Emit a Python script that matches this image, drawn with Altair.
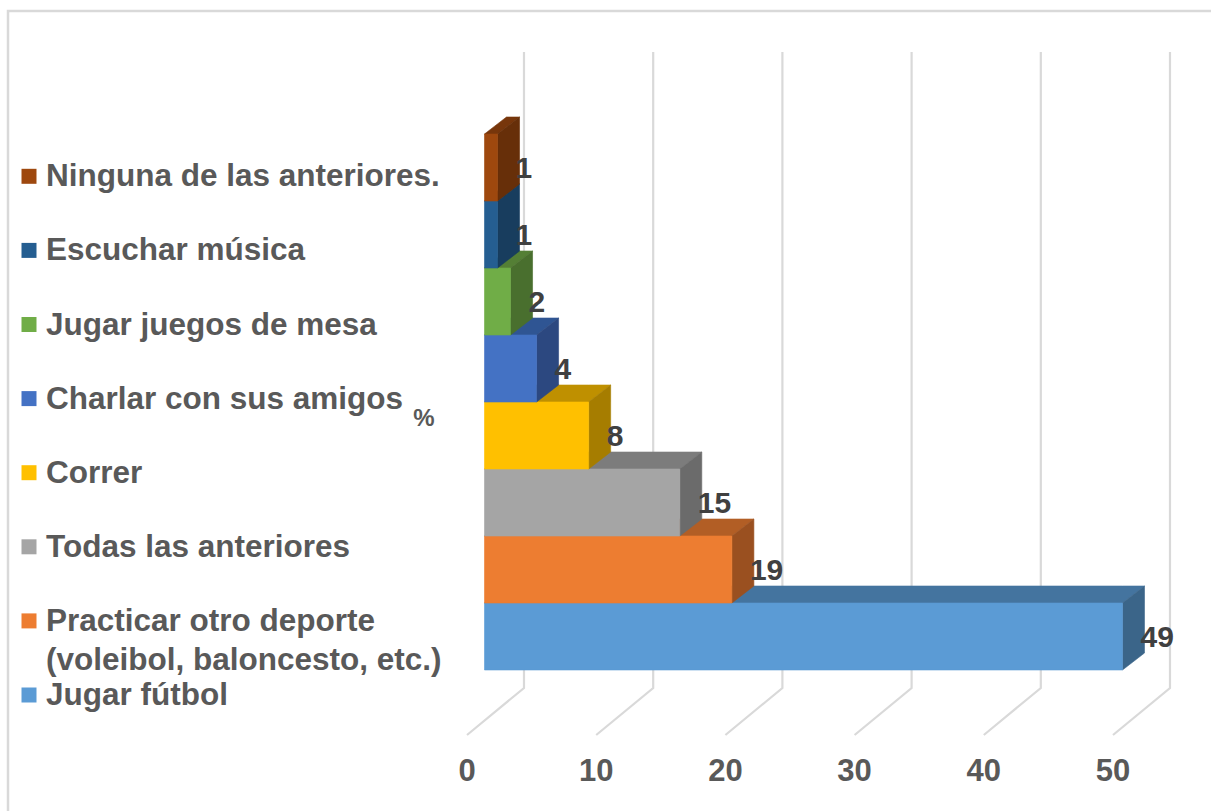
import altair as alt
import pandas as pd

W, H = 1211, 811

# Categories bottom to top, with their percentages
categories = ["Jugar fútbol", "Practicar otro deporte", "Todas las anteriores", "Correr",
              "Charlar con sus amigos", "Jugar juegos de mesa", "Escuchar música",
              "Ninguna de las anteriores."]
values = [49, 19, 15, 8, 4, 2, 1, 1]
front_colors = ["#5B9BD5", "#ED7D31", "#A5A5A5", "#FFC000", "#4472C4", "#70AD47", "#255E91", "#9E480E"]
top_colors = ["#44749F", "#B25E25", "#7C7C7C", "#BF9000", "#2F5593", "#547F35", "#1C476D", "#77360B"]
side_colors = ["#3B6589", "#9A5020", "#6B6B6B", "#A67D00", "#2C4880", "#496F2E", "#183D5E", "#672F09"]
axis_ticks = [0, 10, 20, 30, 40, 50]

# Oblique projection: units per pixel on the two plotting scales
PX_PER_VALUE = 13.02
PX_PER_ROW = 67
PX_PER_GRID = 12.92
BAR_ORIGIN = 484.5
DEPTH_X = 22 / PX_PER_VALUE
DEPTH_Y = 17 / PX_PER_ROW
FLOOR_X = -57 / PX_PER_GRID
ROW_BACK_FLOOR = (670 - 688) / PX_PER_ROW
ROW_FRONT_FLOOR = (670 - 735) / PX_PER_ROW
ROW_WALL_TOP = (670 - 52) / PX_PER_ROW
ROW_TICK_LABEL = (670 - 771) / PX_PER_ROW

x_bar = alt.Scale(domain=[-BAR_ORIGIN / PX_PER_VALUE, (W - BAR_ORIGIN) / PX_PER_VALUE], range=[0, W], nice=False, zero=False)
x_grid = alt.Scale(domain=[-524 / PX_PER_GRID, (W - 524) / PX_PER_GRID], range=[0, W], nice=False, zero=False)
y_row = alt.Scale(domain=[(670 - H) / PX_PER_ROW, 670 / PX_PER_ROW], range=[H, 0], nice=False, zero=False)
y_legend = alt.Scale(domain=[(695 - H) / 74.1, 695 / 74.1], range=[H, 0], nice=False, zero=False)
x_px = alt.Scale(domain=[0, W], range=[0, W], nice=False, zero=False)
y_px = alt.Scale(domain=[0, H], range=[0, H], nice=False, zero=False)


def top_face(v, row):
    """Parallelogram on top of a bar, split at each corner so it can be drawn as an area."""
    x0, x1 = 0.0, float(v)
    corners = sorted({x0, x1, x0 + DEPTH_X, x1 + DEPTH_X})
    pts = []
    for x in corners:
        lower = row + 1 + max(0.0, x - x1) / DEPTH_X * DEPTH_Y
        upper = row + 1 + min(x - x0, DEPTH_X) / DEPTH_X * DEPTH_Y
        pts.append((x, lower, upper))
    return pts


rows = []
for i, v in enumerate(values):
    faces = [
        (top_colors[i], top_face(v, i)),
        (side_colors[i], [(v, i, i + 1), (v + DEPTH_X, i + DEPTH_Y, i + 1 + DEPTH_Y)]),
        (front_colors[i], [(0, i, i + 1), (v, i, i + 1)]),
    ]
    for j, (color, pts) in enumerate(faces):
        for x, y, y2 in pts:
            rows.append({"x": x, "y": y, "y2": y2, "fill": color, "face": f"{i}-{j}"})
bars_df = pd.DataFrame(rows)

bars = alt.Chart(bars_df).mark_area(orient="vertical", strokeWidth=0.6).encode(
    x=alt.X("x:Q", scale=x_bar, axis=None),
    y=alt.Y("y:Q", scale=y_row, axis=None, stack=None),
    y2="y2:Q",
    fill=alt.Fill("fill:N", scale=None),
    stroke=alt.Stroke("fill:N", scale=None),
    detail="face:N",
)

# Back-wall gridlines continuing onto the floor
grid_rows = []
for t in axis_ticks:
    grid_rows += [
        {"t": t, "x": t, "y": ROW_WALL_TOP, "k": 0},
        {"t": t, "x": t, "y": ROW_BACK_FLOOR, "k": 1},
        {"t": t, "x": t + FLOOR_X, "y": ROW_FRONT_FLOOR, "k": 2},
    ]
grid = alt.Chart(pd.DataFrame(grid_rows)).mark_line(color="#D9D9D9", strokeWidth=2.2).encode(
    x=alt.X("x:Q", scale=x_grid, axis=None),
    y=alt.Y("y:Q", scale=y_row, axis=None),
    detail="t:N",
    order="k:Q",
)

tick_df = pd.DataFrame({"t": axis_ticks, "x": [t + FLOOR_X for t in axis_ticks],
                        "y": [ROW_TICK_LABEL] * len(axis_ticks)})
tick_labels = alt.Chart(tick_df).mark_text(
    font="Liberation Sans", fontWeight="bold", fontSize=31, color="#595959", baseline="middle", align="center", dy=1
).encode(
    x=alt.X("x:Q", scale=x_grid, axis=None),
    y=alt.Y("y:Q", scale=y_row, axis=None),
    text="t:N",
)

value_df = pd.DataFrame({"v": values, "row": [i + 0.5 for i in range(len(values))]})
value_labels = alt.Chart(value_df).mark_text(
    font="Liberation Sans", fontWeight="bold", fontSize=30, color="#404040", baseline="middle", align="left", dx=18, dy=1
).encode(
    x=alt.X("v:Q", scale=x_bar, axis=None),
    y=alt.Y("row:Q", scale=y_row, axis=None),
    text="v:N",
)

# Hand-placed legend rows
legend_df = pd.DataFrame({"row": list(range(len(categories))), "label": categories, "color": front_colors})
legend_swatches = alt.Chart(legend_df.assign(px=29)).mark_square(size=225, opacity=1).encode(
    x=alt.X("px:Q", scale=x_px, axis=None),
    y=alt.Y("row:Q", scale=y_legend, axis=None),
    color=alt.Color("color:N", scale=None),
)
legend_text_df = pd.concat([
    legend_df[["row", "label"]],
    pd.DataFrame({"row": [0.474], "label": ["(voleibol, baloncesto, etc.)"]}),
]).assign(px=46)
legend_labels = alt.Chart(legend_text_df).mark_text(
    font="Liberation Sans", fontWeight="bold", fontSize=31.5, color="#595959", baseline="middle", align="left", dy=1
).encode(
    x=alt.X("px:Q", scale=x_px, axis=None),
    y=alt.Y("row:Q", scale=y_legend, axis=None),
    text="label:N",
)

unit_label = alt.Chart(pd.DataFrame({"x": [424], "y": [419], "t": ["%"]})).mark_text(
    font="Liberation Sans", fontWeight="bold", fontSize=24, color="#595959", baseline="middle", align="center"
).encode(
    x=alt.X("x:Q", scale=x_px, axis=None),
    y=alt.Y("y:Q", scale=y_px, axis=None),
    text="t:N",
)

# Chart border: visible along the top and left only
frame_df = pd.DataFrame({"x": [8, 8, W], "y": [H, 11, 11], "k": [0, 1, 2]})
frame = alt.Chart(frame_df).mark_line(color="#D9D9D9", strokeWidth=2.5).encode(
    x=alt.X("x:Q", scale=x_px, axis=None),
    y=alt.Y("y:Q", scale=y_px, axis=None),
    order="k:Q",
)

chart = alt.layer(
    frame, grid, bars, value_labels, tick_labels, legend_swatches, legend_labels, unit_label
).resolve_scale(x="independent", y="independent").properties(
    width=W, height=H, padding=0, background="white", autosize=alt.AutoSizeParams(type="none")
).configure_view(stroke=None)

chart.save("out.html", embed_options={"renderer": "svg", "actions": False})
